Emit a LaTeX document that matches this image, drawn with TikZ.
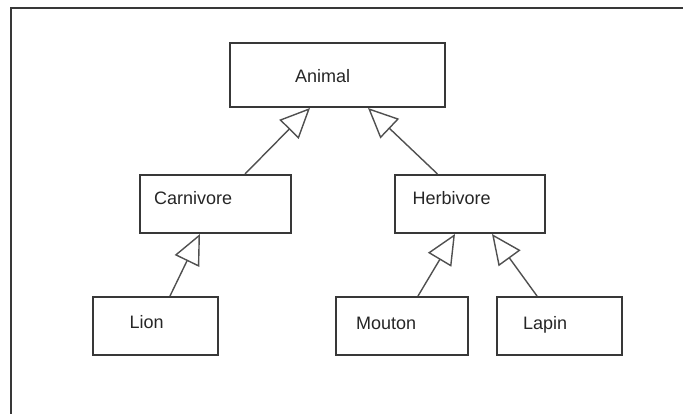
\documentclass[tikz,border=0pt]{standalone}
\usepackage{fontspec}
\setmainfont{Liberation Sans}
\usetikzlibrary{arrows.meta}
\definecolor{boxline}{HTML}{383838}
\definecolor{linkline}{HTML}{505050}
\definecolor{inktext}{HTML}{262626}
\begin{document}
\begin{tikzpicture}[x=1pt, y=-1pt,
  box/.style={draw=boxline, line width=2pt, fill=white, rectangle, inner sep=0pt},
  lbl/.style={anchor=base west, inner sep=0pt, text=inktext, font=\fontsize{18}{20}\selectfont},
  inherit/.style={draw=linkline, line width=1.4pt,
    -{Triangle[open, length=30pt, width=27pt, line width=1.4pt]}}]
  \useasboundingbox (0,0) rectangle (683,414);
  \fill[white] (0,0) rectangle (683,414);
  % outer frame (only its top and left sides fall inside the page)
  \draw[draw=boxline, line width=2pt] (11,414) -- (11,8) -- (683,8);

  % class boxes
  \node[box, minimum width=215pt, minimum height=64pt] (animal) at (337.5,75) {};
  \node[box, minimum width=151pt, minimum height=58pt] (carn) at (215.5,204) {};
  \node[box, minimum width=150pt, minimum height=58pt] (herb) at (469.5,204) {};
  \node[box, minimum width=125pt, minimum height=58pt] (lion) at (155.5,326) {};
  \node[box, minimum width=132pt, minimum height=58pt] (mouton) at (402,326) {};
  \node[box, minimum width=125pt, minimum height=58pt] (lapin) at (559.5,326) {};

  % class names
  \node[lbl] (tanimal) at (295,83) {Animal};
  \node[lbl] (tcarn) at (154,205) {Carnivore};
  \node[lbl] (therb) at (412.5,205) {Herbivore};
  \node[lbl] (tlion) at (129.5,328) {Lion};
  \node[lbl] (tmouton) at (356,329) {Mouton};
  \node[lbl] (tlapin) at (523,329) {Lapin};

  % inheritance links
  \draw[inherit] ([xshift=29.5pt]carn.north) -- ([xshift=-27.5pt]animal.south);
  \draw[inherit] ([xshift=-32pt]herb.north) -- ([xshift=30.5pt]animal.south);
  \draw[inherit] ([xshift=14.5pt]lion.north) -- ([xshift=-15.5pt]carn.south);
  \draw[inherit] ([xshift=16pt]mouton.north) -- ([xshift=-14.5pt]herb.south);
  \draw[inherit] ([xshift=-22.5pt]lapin.north) -- ([xshift=22.5pt]herb.south);
\end{tikzpicture}
\end{document}
